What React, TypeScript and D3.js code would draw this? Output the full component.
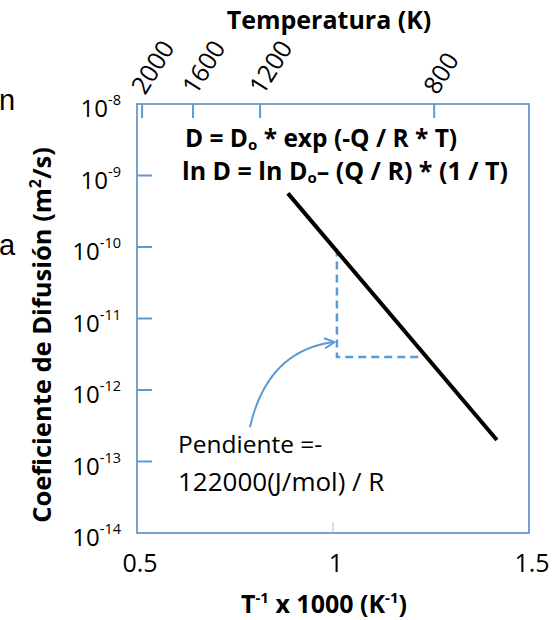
import React from "react";
import * as d3 from "d3";

// ---- data ----
const xTickValues = [0.5, 1, 1.5];
const xTickLabels = ["0.5", "1", "1.5"];
const yTickExponents = [-8, -9, -10, -11, -12, -13, -14];
const topTempLabels = ["2000", "1600", "1200", "800"];
// positions of the top (temperature) ticks, in 1000/T units, as drawn
const topTempPositions = [0.513, 0.643, 0.814, 1.258];
// fitted Arrhenius line (x = 1000/T, y = D in m2/s)
const lineX = [0.885, 1.418];
const lineY = [Math.pow(10, -9.25), Math.pow(10, -12.7)];
// slope triangle
const triX = [1.01, 1.01, 1.227];
const triY = [Math.pow(10, -10.02), Math.pow(10, -11.54), Math.pow(10, -11.54)];
// curved arrow (start, control, tip)
const arrowX = [0.788, 0.834, 1.004];
const arrowY = [Math.pow(10, -12.52), Math.pow(10, -11.44), Math.pow(10, -11.33)];

const W = 557;
const H = 620;
const left = 137, right = 529, top = 104, bottom = 533;

const BOX = "#4f81bd";
const TICK = "#5b9bd5";
const FONT = "'Open Sans', sans-serif";

export default function App() {
  const x = d3.scaleLinear().domain([0.5, 1.5]).range([left, right]);
  const y = d3.scaleLog().domain([1e-14, 1e-8]).range([bottom, top]);

  const line = d3
    .line<number>()
    .x((_, i) => x(lineX[i]))
    .y((_, i) => y(lineY[i]));
  const tri = d3
    .line<number>()
    .x((_, i) => x(triX[i]))
    .y((_, i) => y(triY[i]));

  const ap = arrowX.map((v, i) => [x(v), y(arrowY[i])]);
  const arrowPath = `M${ap[0][0]},${ap[0][1]} Q${ap[1][0]},${ap[1][1]} ${ap[2][0]},${ap[2][1]}`;

  return (
    <svg
      width={W}
      height={H}
      style={{ position: "absolute", left: 0, top: 0, background: "#fff" }}
      fontFamily={FONT}
    >
      <defs>
        <marker
          id="arrowhead"
          viewBox="0 0 12 12"
          refX="11"
          refY="6"
          markerWidth="12"
          markerHeight="12"
          markerUnits="userSpaceOnUse"
          orient="auto"
        >
          <path d="M1,1 L11,6 L1,11" fill="none" stroke={TICK} strokeWidth={2} />
        </marker>
      </defs>

      {/* cropped fragments on the left edge */}
      <text x={-1} y={110} fontFamily="'Liberation Sans', Arial, sans-serif" fontSize={29} fill="#000">n</text>
      <text x={-1} y={255} fontFamily="'Liberation Sans', Arial, sans-serif" fontSize={29} fill="#000">a</text>

      {/* title */}
      <text x={329} y={29} textAnchor="middle" fontWeight="bold" fontSize={25} fill="#000">
        Temperatura (K)
      </text>

      {/* top temperature labels */}
      {topTempLabels.map((t, i) => {
        const tx = x(topTempPositions[i]) + 3;
        const ty = 96;
        return (
          <text key={t} x={tx} y={ty} fontSize={25} transform={`rotate(-58 ${tx} ${ty})`} fill="#000">
            {t}
          </text>
        );
      })}

      {/* plot box */}
      <rect x={left} y={top} width={right - left} height={bottom - top} fill="none" stroke={BOX} strokeWidth={1.5} />

      {/* top ticks */}
      {topTempPositions.map((p, i) => (
        <line key={i} x1={x(p)} x2={x(p)} y1={top} y2={top + 14} stroke={TICK} strokeWidth={2} />
      ))}

      {/* left ticks */}
      {yTickExponents.slice(1, -1).map((e) => (
        <line key={e} x1={left} x2={left + 15} y1={y(Math.pow(10, e))} y2={y(Math.pow(10, e))} stroke={TICK} strokeWidth={2} />
      ))}

      {/* bottom tick at 1 */}
      <line x1={x(1)} x2={x(1)} y1={bottom - 11} y2={bottom} stroke="#9dc3e6" strokeWidth={1} />

      {/* y tick labels */}
      {yTickExponents.map((e) => (
        <text key={e} x={121} y={y(Math.pow(10, e)) + 13} textAnchor="end" fontSize={24} fill="#000">
          10
          <tspan fontSize={14.5} dy={-12}>{String(e)}</tspan>
        </text>
      ))}

      {/* x tick labels */}
      {xTickValues.map((v, i) => (
        <text key={v} x={x(v) + 3} y={572} textAnchor="middle" fontSize={25} fill="#000">
          {xTickLabels[i]}
        </text>
      ))}

      {/* x axis title */}
      <text x={324} y={613} textAnchor="middle" fontWeight="bold" fontSize={25} fill="#000">
        T<tspan fontSize={15} dy={-10}>-1</tspan>
        <tspan dy={10}> x 1000 (K</tspan>
        <tspan fontSize={15} dy={-10}>-1</tspan>
        <tspan dy={10}>)</tspan>
      </text>

      {/* y axis title */}
      <text
        transform={`translate(51,335) rotate(-90)`}
        textAnchor="middle"
        fontWeight="bold"
        fontSize={25.5}
        fill="#000"
      >
        Coeficiente de Difusión (m<tspan fontSize={16} dy={-10}>2</tspan>
        <tspan dy={10}>/s)</tspan>
      </text>

      {/* equations */}
      <text x={185} y={147} fontWeight="bold" fontSize={24.5} fill="#000">
        D = D<tspan fontSize={15} dy={3}>o</tspan>
        <tspan dy={-3}> * exp (-Q / R * T)</tspan>
      </text>
      <text x={182} y={180} fontWeight="bold" fontSize={25} fill="#000">
        ln D = ln D<tspan fontSize={15} dy={3}>o</tspan>
        <tspan dy={-3}>– (Q / R) * (1 / T)</tspan>
      </text>

      {/* slope triangle */}
      <path d={tri(triX) || ""} fill="none" stroke={TICK} strokeWidth={2.5} strokeDasharray="8,5" />

      {/* main line */}
      <path d={line(lineX) || ""} fill="none" stroke="#000" strokeWidth={4} />

      {/* curved arrow */}
      <path d={arrowPath} fill="none" stroke={TICK} strokeWidth={2} markerEnd="url(#arrowhead)" />

      {/* annotation */}
      <text x={178} y={453} fontSize={24.5} fill="#000">Pendiente =-</text>
      <text x={178} y={491} fontSize={26} fill="#000">122000(J/mol) / R</text>
    </svg>
  );
}
